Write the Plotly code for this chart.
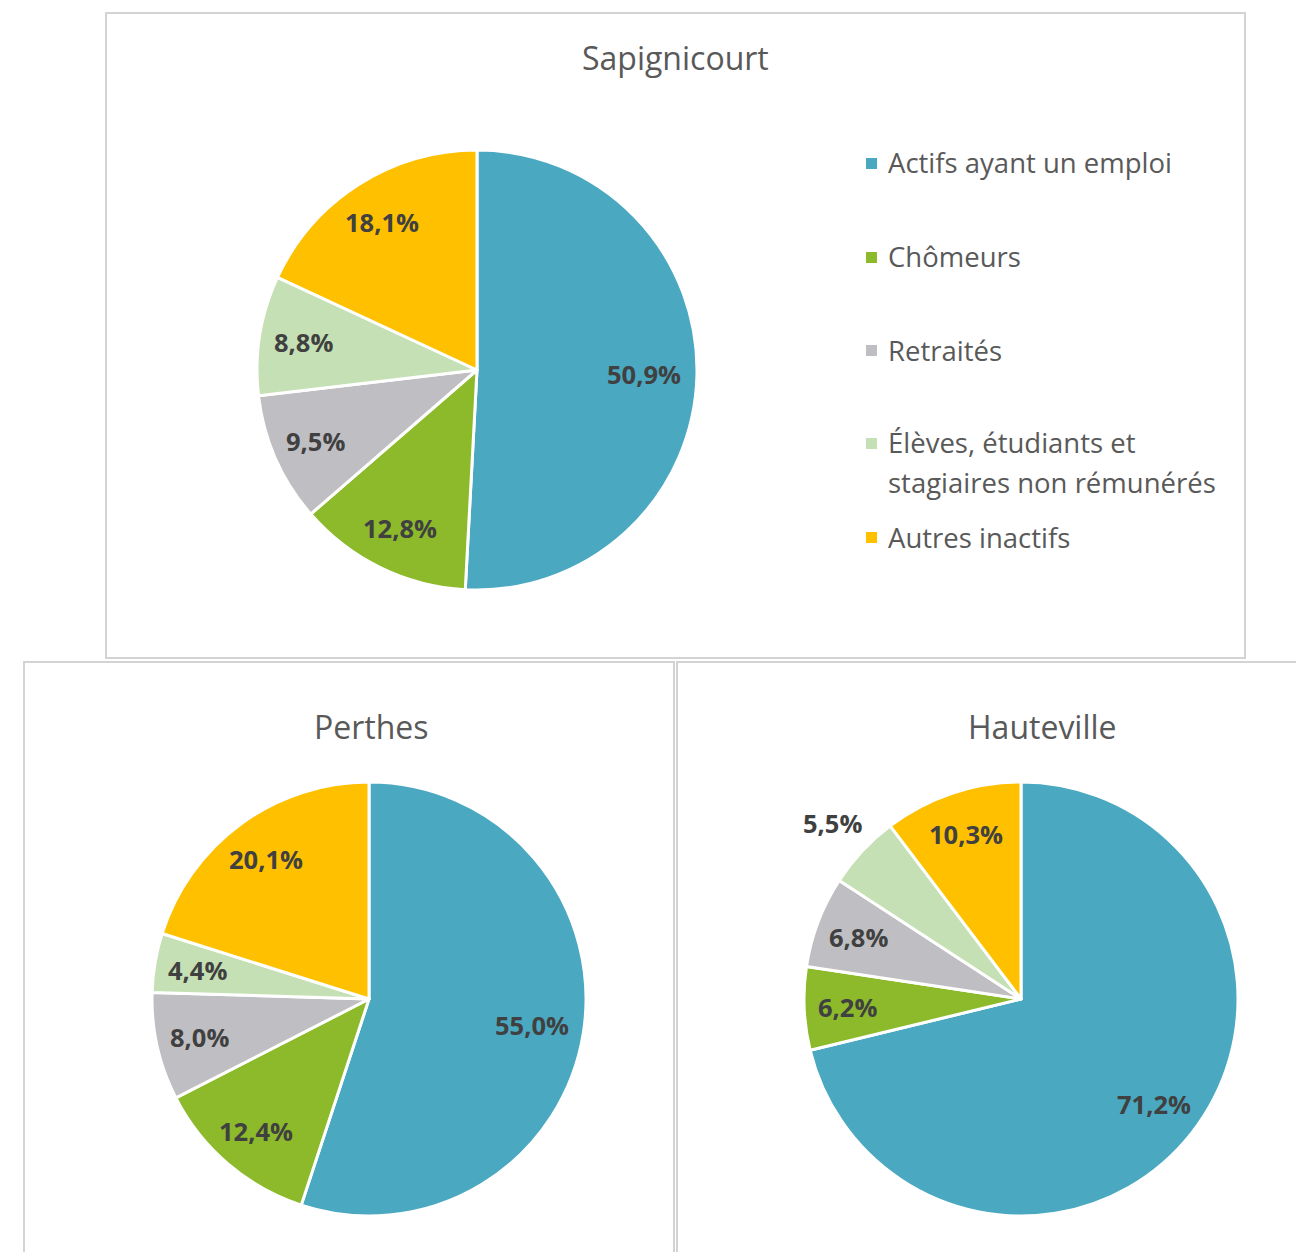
import math
import plotly.graph_objects as go

# Population de 15 à 64 ans par type d'activité (%)
categories = [
    "Actifs ayant un emploi",
    "Chômeurs",
    "Retraités",
    "Élèves, étudiants et stagiaires non rémunérés",
    "Autres inactifs",
]
legend_labels = [
    "Actifs ayant un emploi",
    "Chômeurs",
    "Retraités",
    "Élèves, étudiants et<br>stagiaires non rémunérés",
    "Autres inactifs",
]
communes = ["Sapignicourt", "Perthes", "Hauteville"]
sapignicourt = [50.9, 12.8, 9.5, 8.8, 18.1]
perthes = [55.0, 12.4, 8.0, 4.4, 20.1]
hauteville = [71.2, 6.2, 6.8, 5.5, 10.3]

colors = ["#4AA8C1", "#8CBA2B", "#BFBFC3", "#C5E0B4", "#FFC000"]

W, H = 1296, 1252
FONT = "Open Sans"
LABEL_COLOR = "#404040"
TEXT_COLOR = "#595959"


def px_x(v):
    return v / W


def px_y(v):
    return 1 - v / H


def fr(v):
    return f"{v:.1f}".replace(".", ",") + "%"


def pie(values, cx, cy, r):
    return go.Pie(
        labels=categories,
        values=values,
        text=[fr(v) for v in values],
        textinfo="none",
        sort=False,
        direction="clockwise",
        rotation=0,
        marker=dict(colors=colors, line=dict(color="white", width=3)),
        domain=dict(x=[px_x(cx - r), px_x(cx + r)], y=[px_y(cy + r), px_y(cy - r)]),
        showlegend=False,
        hoverinfo="label+text",
    )


def slice_labels(values, cx, cy, r, radial):
    """Value labels placed along each slice's bisector."""
    out = []
    total = sum(values)
    cum = 0.0
    for v, k in zip(values, radial):
        theta = 2 * math.pi * (cum + v / 2) / total
        cum += v
        x = cx + k * r * math.sin(theta)
        y = cy - k * r * math.cos(theta)
        out.append(dict(text=fr(v), x=px_x(x), y=px_y(y), xref="paper", yref="paper",
                        showarrow=False, xanchor="center", yanchor="middle",
                        font=dict(family=FONT, size=25.5, color=LABEL_COLOR, weight="bold")))
    return out


pies = [
    (sapignicourt, 477, 370, 220, [0.76, 0.8, 0.8, 0.8, 0.8]),
    (perthes, 369, 999, 217, [0.76, 0.8, 0.8, 0.8, 0.8]),
    (hauteville, 1021, 999, 217, [0.78, 0.8, 0.8, 1.19, 0.8]),
]

fig = go.Figure()
annotations = []
for values, cx, cy, r, radial in pies:
    fig.add_trace(pie(values, cx, cy, r))
    annotations += slice_labels(values, cx, cy, r, radial)

# Chart frames
frames = [(106, 13, 1245, 658), (24, 662, 674, 1262), (677, 662, 1300, 1262)]
shapes = []
for x0, y0, x1, y1 in frames:
    shapes.append(dict(type="rect", xref="paper", yref="paper",
                       x0=px_x(x0), x1=px_x(x1), y0=px_y(y1), y1=px_y(y0),
                       line=dict(color="#D3D3D3", width=2), fillcolor="rgba(0,0,0,0)"))

# Titles
for name, (tx, ty) in zip(communes, [(675, 58), (371, 726), (1042, 726)]):
    annotations.append(dict(text=name, x=px_x(tx), y=px_y(ty), xref="paper", yref="paper",
                            showarrow=False, xanchor="center", yanchor="middle",
                            font=dict(family=FONT, size=32, color=TEXT_COLOR)))

# Legend (top chart)
legend_y = [163, 257, 350, 443, 537]
for lab, col, ly in zip(legend_labels, colors, legend_y):
    for i, line in enumerate(lab.split("<br>")):
        annotations.append(dict(text=line, x=px_x(886), y=px_y(ly + 40 * i), xref="paper",
                                yref="paper", showarrow=False, xanchor="left",
                                yanchor="middle", align="left",
                                font=dict(family=FONT, size=27.5, color=TEXT_COLOR)))
    shapes.append(dict(type="rect", xref="paper", yref="paper",
                       x0=px_x(866), x1=px_x(877), y0=px_y(ly + 6), y1=px_y(ly - 5),
                       fillcolor=col, line=dict(width=0)))

fig.update_layout(
    width=W, height=H,
    margin=dict(l=0, r=0, t=0, b=0),
    paper_bgcolor="white",
    plot_bgcolor="white",
    shapes=shapes,
    annotations=annotations,
)

fig.write_html("out.html")
